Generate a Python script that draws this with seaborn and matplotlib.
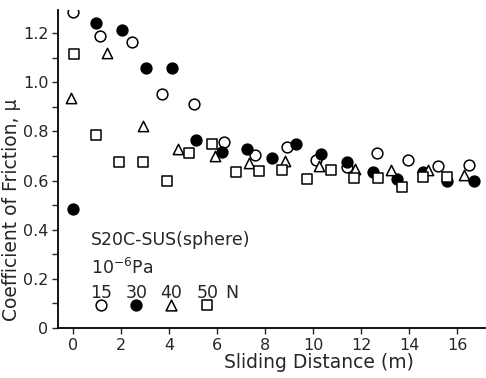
import numpy as np
import pandas as pd
import matplotlib
matplotlib.use("Agg")
import matplotlib.pyplot as plt
import seaborn as sns

# Data (sliding distance in m, coefficient of friction)
d15 = [0.0, 1.13, 2.46, 3.71, 5.05, 6.3, 7.6, 8.9, 10.14, 11.43, 12.65, 13.94, 15.2, 16.5]
mu15 = [1.286, 1.19, 1.164, 0.952, 0.911, 0.757, 0.704, 0.736, 0.683, 0.655, 0.712, 0.683, 0.659, 0.663]

d30 = [0.0, 0.96, 2.05, 3.05, 4.13, 5.13, 6.2, 7.26, 8.3, 9.3, 10.35, 11.4, 12.48, 13.5, 14.57, 15.6, 16.7]
mu30 = [0.484, 1.24, 1.212, 1.058, 1.058, 0.765, 0.716, 0.728, 0.69, 0.749, 0.71, 0.675, 0.634, 0.607, 0.634, 0.598, 0.598]

d40 = [-0.08, 1.42, 2.92, 4.38, 5.93, 7.35, 8.85, 10.27, 11.77, 13.27, 14.8, 16.28]
mu40 = [0.936, 1.12, 0.82, 0.728, 0.70, 0.671, 0.68, 0.66, 0.647, 0.643, 0.643, 0.622]

d50 = [0.04, 0.96, 1.92, 2.92, 3.92, 4.84, 5.8, 6.8, 7.76, 8.72, 9.77, 10.73, 11.69, 12.69, 13.69, 14.6, 15.6]
mu50 = [1.115, 0.785, 0.675, 0.675, 0.598, 0.712, 0.749, 0.635, 0.639, 0.643, 0.606, 0.643, 0.61, 0.61, 0.574, 0.614, 0.614]

loads = ["15", "30", "40", "50"]
markers = ["o", "o", "^", "s"]
filled = [False, True, False, False]

xticks = [0, 2, 4, 6, 8, 10, 12, 14, 16]
yticks = [0, 0.2, 0.4, 0.6, 0.8, 1.0, 1.2]
yticklabels = ["0", "0.2", "0.4", "0.6", "0.8", "1.0", "1.2"]

sns.set_style("ticks")
plt.rcParams['font.family'] = ['DejaVu Sans']

fig = plt.figure(figsize=(4.86, 3.78), dpi=100)
ax = fig.add_axes([58/486, 1 - 328/378, 1 - 58/486 - 0.003, (328 - 10)/378])

series = [(d15, mu15), (d30, mu30), (d40, mu40), (d50, mu50)]
for (d, mu), lab, m, f in zip(series, loads, markers, filled):
    df = pd.DataFrame({"d": d, "mu": mu})
    sns.scatterplot(data=df, x="d", y="mu", ax=ax, marker=m, s=60 if m != "^" else 55,
                    facecolor="black" if f else "white", edgecolor="black",
                    linewidth=1.1, zorder=3, legend=False)

ax.set_xlim(-0.63, 17.15)
ax.set_ylim(0, 1.294)
ax.set_xticks(xticks)
ax.set_yticks(yticks)
ax.set_yticklabels(yticklabels)
ax.set_yticks(np.arange(0.1, 1.3, 0.2), minor=True)
ax.tick_params(axis="both", which="major", labelsize=11.5, length=4, width=1, direction="out", pad=3)
ax.tick_params(axis="y", which="minor", length=4, width=1, direction="out")
for sp in ["top", "right"]:
    ax.spines[sp].set_visible(False)
for sp in ["left", "bottom"]:
    ax.spines[sp].set_linewidth(1.3)
    ax.spines[sp].set_color("black")

ax.set_xlabel("Sliding Distance (m)", fontsize=13.5)
ax.set_ylabel("Coefficient of Friction, μ", fontsize=13.5)
ax.xaxis.set_label_coords(0.612, -0.107)
ax.yaxis.set_label_coords(-0.108, 0.371)
ax.xaxis.label.set_verticalalignment("center")
ax.yaxis.label.set_verticalalignment("center")

# In-plot legend
fs = 12.5
ax.text(0.75, 0.358, "S20C-SUS(sphere)", fontsize=fs, va="center", ha="left")
ax.text(0.75, 0.244, "10$^{-6}$Pa", fontsize=fs, va="center", ha="left")
leg_x = [1.17, 2.63, 4.09, 5.59]
for x, lab in zip(leg_x, loads):
    ax.text(x, 0.142, lab, fontsize=fs, va="center", ha="center")
ax.text(6.6, 0.142, "N", fontsize=fs, va="center", ha="center")
for x, m, f in zip(leg_x, markers, filled):
    ax.scatter([x], [0.092], marker=m, s=60, facecolor="black" if f else "white",
               edgecolor="black", linewidth=1.1, zorder=3, clip_on=False)

fig.savefig("out.png", dpi=100)
